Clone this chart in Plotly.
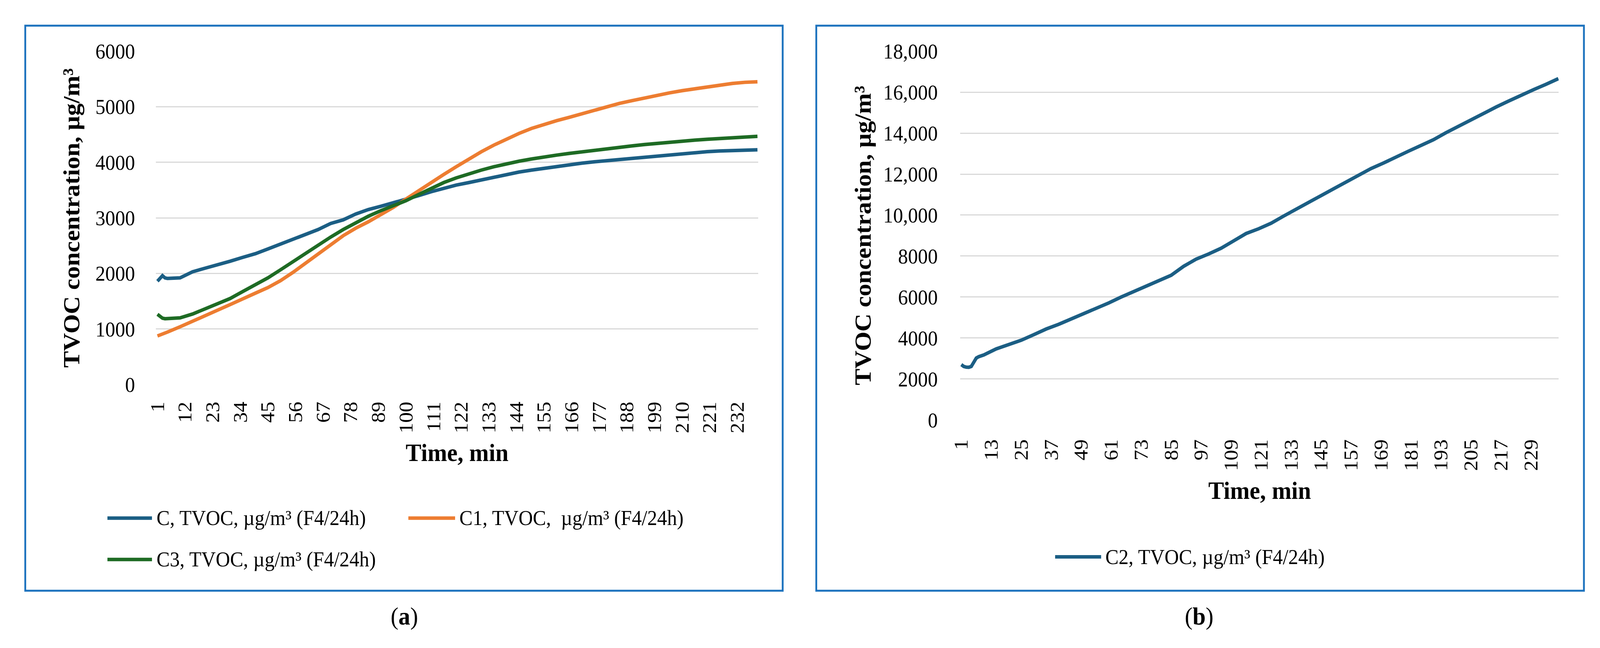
import plotly.graph_objects as go

# canvas size of the reference picture
W, H = 4354, 1660

# Data (time in minutes, TVOC in ug/m3)
minutes_a = [1, 2, 3, 4, 5, 10, 15, 20, 25, 30, 35, 40, 45, 50, 55, 60, 65, 70, 75, 80,
             85, 90, 95, 100, 105, 110, 115, 120, 125, 130, 135, 140, 145, 150, 155, 160,
             165, 170, 175, 180, 185, 190, 195, 200, 205, 210, 215, 220, 225, 230, 235, 240]

c_tvoc = [1860, 1920, 1960, 1920, 1910, 1920, 2030, 2095, 2150, 2220, 2290, 2355, 2440, 2530,
          2625, 2705, 2790, 2900, 2965, 3070, 3150, 3210, 3270, 3330, 3400, 3470, 3535, 3590,
          3635, 3685, 3740, 3785, 3825, 3860, 3895, 3930, 3960, 3985, 4010, 4030, 4055, 4080,
          4105, 4125, 4145, 4160, 4178, 4192, 4205, 4212, 4218, 4225]

c1_tvoc = [875, 890, 910, 928, 945, 1040, 1135, 1235, 1340, 1440, 1550, 1645, 1745, 1870,
           2020, 2180, 2345, 2515, 2680, 2815, 2930, 3060, 3190, 3340, 3490, 3640, 3780, 3920,
           4060, 4190, 4310, 4420, 4520, 4610, 4685, 4750, 4810, 4875, 4945, 5005, 5060, 5110,
           5160, 5205, 5250, 5290, 5325, 5360, 5395, 5420, 5440, 5450]

c3_tvoc = [1265, 1220, 1195, 1185, 1185, 1200, 1270, 1365, 1450, 1550, 1675, 1795, 1920, 2065,
           2215, 2365, 2510, 2655, 2790, 2910, 3030, 3130, 3220, 3310, 3420, 3530, 3635, 3720,
           3795, 3860, 3920, 3975, 4020, 4060, 4100, 4130, 4160, 4190, 4220, 4245, 4270, 4295,
           4320, 4342, 4365, 4382, 4400, 4415, 4432, 4445, 4457, 4468]

minutes_b = [1, 2, 3, 4, 5, 6, 7, 8, 10, 15, 20, 25, 30, 35, 40, 45, 50, 55, 60, 65, 70, 75,
             80, 85, 90, 95, 100, 105, 110, 115, 120, 125, 130, 135, 140, 145, 150, 155, 160,
             165, 170, 175, 180, 185, 190, 195, 200, 205, 210, 215, 220, 225, 230, 235, 240]

c2_tvoc = [2700, 2610, 2575, 2570, 2610, 2800, 3020, 3090, 3170, 3470, 3660, 3890, 4160, 4440,
           4670, 4920, 5175, 5430, 5710, 6000, 6260, 6560, 6800, 7060, 7500, 7850, 8100, 8380,
           8740, 9100, 9330, 9600, 9950, 10270, 10600, 10950, 11280, 11600, 11950, 12270, 12540,
           12850, 13120, 13400, 13680, 14020, 14340, 14660, 14980, 15270, 15560, 15850, 16120,
           16380, 16660]

# tick labels
xticks_a = list(range(1, 241, 11))     # 1, 12, 23 ... 232
xticks_b = list(range(1, 241, 12))     # 1, 13, 25 ... 229
yticks_a = list(range(0, 6001, 1000))
yticks_b = list(range(0, 18001, 2000))
yticktext_b = [f"{v:,}" if v >= 10000 else str(v) for v in yticks_b]

names = {
    "C": "C, TVOC, µg/m³ (F4/24h)",
    "C1": "C1, TVOC,\u00a0 µg/m³ (F4/24h)",
    "C3": "C3, TVOC, µg/m³ (F4/24h)",
    "C2": "C2, TVOC, µg/m³ (F4/24h)",
}
ytitle = "<b>TVOC concentration, µg/m³</b>"
xtitle = "<b>Time, min</b>"

BLUE = "#1B5E84"
ORANGE = "#ED7D31"
GREEN = "#1E6B24"
BORDER = "#1E73BE"
GRID = "#D9D9D9"
FONT = "Liberation Serif"
LW = 9


def fx(p):
    return p / W


def fy(p):
    return 1 - p / H


fig = go.Figure()

fig.add_trace(go.Scatter(x=minutes_a, y=c_tvoc, mode="lines", name=names["C"],
                         line=dict(color=BLUE, width=LW), xaxis="x", yaxis="y"))
fig.add_trace(go.Scatter(x=minutes_a, y=c1_tvoc, mode="lines", name=names["C1"],
                         line=dict(color=ORANGE, width=LW), xaxis="x", yaxis="y"))
fig.add_trace(go.Scatter(x=minutes_a, y=c3_tvoc, mode="lines", name=names["C3"],
                         line=dict(color=GREEN, width=LW), xaxis="x", yaxis="y"))
fig.add_trace(go.Scatter(x=minutes_b, y=c2_tvoc, mode="lines", name=names["C2"],
                         line=dict(color=BLUE, width=LW), xaxis="x2", yaxis="y2"))

xcommon = dict(showgrid=False, zeroline=False, showline=False, ticks="",
               tickangle=-90, tickfont=dict(family=FONT, size=54, color="black"))
ycommon = dict(showgrid=True, gridcolor=GRID, gridwidth=3, zeroline=False, showline=False,
               ticks="", tickfont=dict(family=FONT, size=54, color="black"))

fig.update_layout(
    width=W, height=H,
    margin=dict(l=0, r=0, t=0, b=0),
    paper_bgcolor="white", plot_bgcolor="white",
    showlegend=False,
    font=dict(family=FONT, size=54, color="black"),
    xaxis=dict(xcommon, domain=[fx(400), fx(2049)], range=[0.42, 240.3],
               tickvals=xticks_a, anchor="y", ticklabelstandoff=32),
    yaxis=dict(ycommon, domain=[fy(992), fy(106)], range=[0, 6000],
               tickvals=yticks_a, anchor="x", ticklabelstandoff=56),
    xaxis2=dict(xcommon, domain=[fx(2602), fx(4241)], range=[0.55, 240.15],
                tickvals=xticks_b, anchor="y2", ticklabelstandoff=38),
    yaxis2=dict(ycommon, domain=[fy(1086), fy(106)], range=[0, 18000],
                tickvals=yticks_b, ticktext=yticktext_b, anchor="x2", ticklabelstandoff=60),
)

# panel frames
for x0, x1 in [(42, 2116), (2208, 4310)]:
    fig.add_shape(type="rect", xref="paper", yref="paper",
                  x0=fx(x0), x1=fx(x1), y0=fy(1540), y1=fy(38),
                  line=dict(color=BORDER, width=5), fillcolor="rgba(0,0,0,0)")

title_font = dict(family=FONT, size=64, color="black")
ann = []
# axis titles
ann.append(dict(text=ytitle, x=fx(168), y=fy(549), textangle=-90, font=title_font))
ann.append(dict(text=ytitle, x=fx(2335), y=fy(596), textangle=-90, font=title_font))
ann.append(dict(text=xtitle, x=fx(1225), y=fy(1173), font=title_font))
ann.append(dict(text=xtitle, x=fx(3422), y=fy(1274), font=title_font))
# panel letters
ann.append(dict(text="(<b>a</b>)", x=fx(1080), y=fy(1608), font=dict(family=FONT, size=64)))
ann.append(dict(text="(<b>b</b>)", x=fx(3256), y=fy(1608), font=dict(family=FONT, size=64)))

# hand-made legends (long line swatches like the original)
legend_items = [
    (names["C"], BLUE, 267, 389, 1347),
    (names["C1"], ORANGE, 1091, 1219, 1347),
    (names["C3"], GREEN, 267, 389, 1457),
    (names["C2"], BLUE, 2862, 2988, 1450),
]
for label, color, lx0, lx1, ly in legend_items:
    fig.add_shape(type="line", xref="paper", yref="paper",
                  x0=fx(lx0), x1=fx(lx1), y0=fy(ly), y1=fy(ly),
                  line=dict(color=color, width=LW))
    ann.append(dict(text=label, x=fx(lx1 + 10), y=fy(ly), xanchor="left",
                    font=dict(family=FONT, size=54, color="black")))

for a in ann:
    a.setdefault("xref", "paper")
    a.setdefault("yref", "paper")
    a.setdefault("showarrow", False)
    a.setdefault("xanchor", "center")
    a.setdefault("yanchor", "middle")
    fig.add_annotation(**a)

# the browser window can be narrower than the figure (it capped at 4096 px),
# so scale the finished plot to fill the window instead of getting clipped
fit = ("var gd=document.getElementById('{plot_id}');"
       "document.documentElement.style.overflow='hidden';"
       "document.body.style.margin='0';"
       "var sx=window.innerWidth/%d, sy=window.innerHeight/%d;"
       "gd.style.transformOrigin='0 0';"
       "gd.style.transform='scale('+sx+','+sy+')';" % (W, H))
fig.write_html("out.html", post_script=fit, config={"displayModeBar": False})
